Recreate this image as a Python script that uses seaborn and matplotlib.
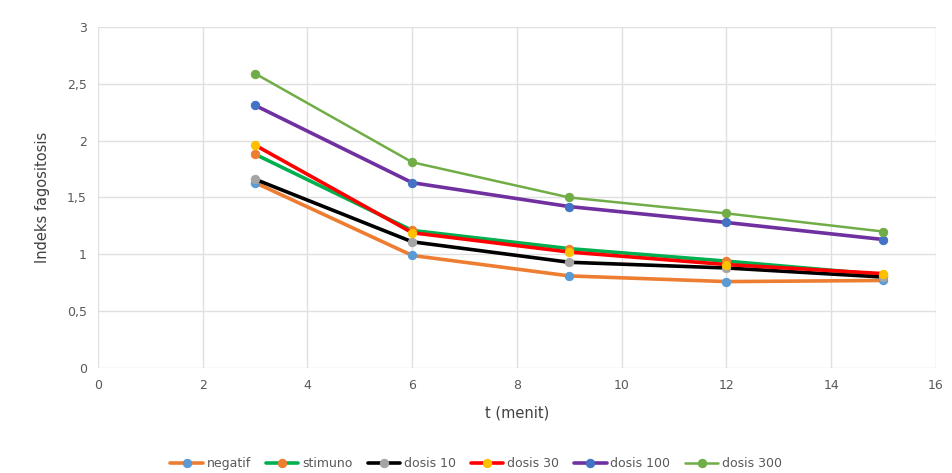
import matplotlib
matplotlib.use("Agg")
import matplotlib.pyplot as plt
import seaborn as sns
import pandas as pd

# data
t_menit = [3, 6, 9, 12, 15]
negatif = [1.63, 0.99, 0.81, 0.76, 0.77]
stimuno = [1.88, 1.21, 1.05, 0.94, 0.82]
dosis_10 = [1.66, 1.11, 0.93, 0.88, 0.80]
dosis_30 = [1.96, 1.19, 1.02, 0.91, 0.83]
dosis_100 = [2.31, 1.63, 1.42, 1.28, 1.13]
dosis_300 = [2.59, 1.81, 1.50, 1.36, 1.20]

series_names = ["negatif", "stimuno", "dosis 10", "dosis 30", "dosis 100", "dosis 300"]
series_values = [negatif, stimuno, dosis_10, dosis_30, dosis_100, dosis_300]
line_colors = ["#ED7D31", "#00B050", "#000000", "#FF0000", "#7030A0", "#70AD47"]
marker_colors = ["#5B9BD5", "#ED7D31", "#A5A5A5", "#FFC000", "#4472C4", "#70AD47"]
line_widths = [2.6, 2.6, 2.6, 2.6, 2.6, 1.8]

df = pd.DataFrame({"t": t_menit * len(series_names),
                   "nilai": sum(series_values, []),
                   "seri": [n for n in series_names for _ in t_menit]})

sns.set_style("white")
fig = plt.figure(figsize=(9.52, 4.73), dpi=100)
ax = fig.add_axes([0.103, 0.222, 0.880, 0.721])

for name, lc, mc, lw in zip(series_names, line_colors, marker_colors, line_widths):
    sub = df[df["seri"] == name]
    sns.lineplot(data=sub, x="t", y="nilai", ax=ax, color=lc, linewidth=lw,
                 marker="o", markersize=6, markerfacecolor=mc, markeredgecolor=mc,
                 label=name, legend=False)

ax.set_xlim(0, 16)
ax.set_ylim(0, 3)
ax.set_xticks(range(0, 17, 2))
ax.set_yticks([0, 0.5, 1, 1.5, 2, 2.5, 3])
ax.set_yticklabels(["0", "0,5", "1", "1,5", "2", "2,5", "3"])
ax.grid(True, color="#E0E0E0", linewidth=1)
for s in ax.spines.values():
    s.set_visible(False)
ax.tick_params(axis="both", length=0, labelsize=9, labelcolor="#595959", pad=8)

ax.set_xlabel("t (menit)", fontsize=10.5, color="#404040", labelpad=10)
ax.set_ylabel("Indeks fagositosis", fontsize=10.5, color="#404040", labelpad=12)

handles, labels = ax.get_legend_handles_labels()
fig.legend(handles, labels, loc="lower center", bbox_to_anchor=(0.5, -0.018), ncol=6,
           frameon=False, fontsize=9, labelcolor="#595959", handlelength=2.6,
           columnspacing=1.2, handletextpad=0.3)

fig.savefig("out.png", dpi=100)
